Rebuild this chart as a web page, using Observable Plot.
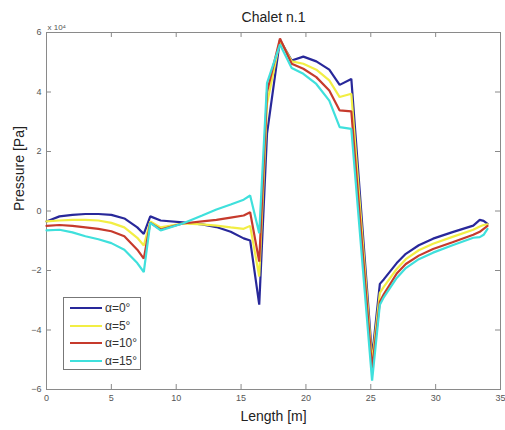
<!DOCTYPE html>
<html>
<head>
<meta charset="utf-8">
<script src="https://cdn.jsdelivr.net/npm/d3@7"></script>
<script src="https://cdn.jsdelivr.net/npm/@observablehq/plot@0.6"></script>
<style>
  html, body { margin: 0; padding: 0; background: #fff; }
  #wrap { position: relative; width: 505px; height: 430px; font-family: "Liberation Sans", Arial, sans-serif; }
  #legend { position: absolute; left: 63px; top: 297px; width: 78px; height: 73px; border: 1px solid #777; background: #fff; box-sizing: border-box; }
  .row { position: absolute; left: 6px; height: 16px; display: flex; align-items: center; font-size: 12px; color: #333; }
  .sw { width: 32px; height: 0; border-top: 2.5px solid; margin-right: 3px; }
</style>
</head>
<body>
<div id="wrap"></div>
<script>
// Data (pressure in units of 1e4 Pa)
const lengthM = [0, 1, 2, 3, 4, 5, 6, 7, 7.5, 8.0, 8.8, 10.5, 12, 13.1, 14.2, 15.2, 15.7, 16.4, 17.0, 18.0, 18.9, 19.8, 20.8, 21.8, 22.6, 23.5, 25.1, 25.7, 26.0, 27.0, 27.7, 28.7, 29.8, 31.3, 32.9, 33.4, 33.7, 34.0];
const alpha0  = [-0.35, -0.18, -0.13, -0.1, -0.1, -0.13, -0.25, -0.55, -0.77, -0.18, -0.32, -0.38, -0.45, -0.54, -0.7, -0.92, -0.99, -3.15, 2.6, 5.75, 5.06, 5.19, 5.03, 4.75, 4.24, 4.44, -4.9, -2.45, -2.3, -1.75, -1.44, -1.15, -0.93, -0.71, -0.49, -0.3, -0.33, -0.43];
const alpha5  = [-0.35, -0.32, -0.3, -0.3, -0.32, -0.4, -0.55, -0.9, -1.16, -0.35, -0.55, -0.42, -0.45, -0.49, -0.55, -0.6, -0.5, -2.2, 3.6, 5.75, 5.03, 4.95, 4.75, 4.39, 3.83, 3.94, -5.1, -2.75, -2.55, -1.95, -1.62, -1.32, -1.1, -0.87, -0.63, -0.52, -0.47, -0.45];
const alpha10 = [-0.5, -0.47, -0.5, -0.55, -0.6, -0.68, -0.85, -1.3, -1.6, -0.4, -0.62, -0.42, -0.35, -0.3, -0.22, -0.15, -0.04, -1.7, 4.0, 5.8, 4.95, 4.78, 4.5, 4.05, 3.38, 3.35, -5.3, -3.05, -2.8, -2.1, -1.78, -1.5, -1.28, -1.05, -0.8, -0.7, -0.6, -0.5];
const alpha15 = [-0.65, -0.63, -0.72, -0.85, -0.95, -1.08, -1.3, -1.75, -2.05, -0.4, -0.65, -0.42, -0.15, 0.05, 0.22, 0.38, 0.52, -0.75, 4.3, 5.6, 4.81, 4.61, 4.27, 3.71, 2.82, 2.76, -5.7, -3.15, -2.9, -2.25, -1.92, -1.62, -1.4, -1.15, -0.9, -0.88, -0.8, -0.6];
const seriesNames = ["α=0°", "α=5°", "α=10°", "α=15°"];
const seriesColors = ["#28289a", "#f2ee44", "#c63a2c", "#3fe0dc"];
const xTicks = [0, 5, 10, 15, 20, 25, 30, 35];
const yTicks = [-6, -4, -2, 0, 2, 4, 6];

const allSeries = [alpha0, alpha5, alpha10, alpha15];
const rows = [];
allSeries.forEach((ys, s) => ys.forEach((v, i) => rows.push({x: lengthM[i], y: v, s: seriesNames[s]})));

const W = 505, H = 430;
const mL = 46, mR = 5, mT = 32, mB = 41;
const tickLenX = 5 * 35 / (W - mL - mR);
const tickLenY = 5 * 12 / (H - mT - mB);

const plot = Plot.plot({
  width: W, height: H,
  marginLeft: mL, marginRight: mR, marginTop: mT, marginBottom: mB,
  style: {fontFamily: "Liberation Sans, Arial, sans-serif", background: "#fff"},
  x: {domain: [0, 35]},
  y: {domain: [-6, 6]},
  color: {domain: seriesNames, range: seriesColors},
  marks: [
    Plot.frame({stroke: "#8a8a8a", strokeWidth: 1}),
    // inward ticks on all four sides
    Plot.ruleX(xTicks, {x: d => d, y1: -6, y2: -6 + tickLenY, stroke: "#8a8a8a"}),
    Plot.ruleX(xTicks, {x: d => d, y1: 6, y2: 6 - tickLenY, stroke: "#8a8a8a"}),
    Plot.ruleY(yTicks, {y: d => d, x1: 0, x2: tickLenX, stroke: "#8a8a8a"}),
    Plot.ruleY(yTicks, {y: d => d, x1: 35, x2: 35 - tickLenX, stroke: "#8a8a8a"}),
    Plot.axisX({ticks: xTicks, tickSize: 0, tickPadding: 5, fontSize: 9, color: "#555", label: null}),
    Plot.axisY({ticks: yTicks, tickSize: 0, tickPadding: 5, fontSize: 9, color: "#555", label: null}),
    Plot.line(rows, {x: "x", y: "y", z: "s", stroke: "s", strokeWidth: 2.2, strokeLinejoin: "miter"}),
    Plot.text(["Chalet n.1"], {frameAnchor: "top", dy: -20, fontSize: 14, fill: "#222"}),
    Plot.text(["Length [m]"], {frameAnchor: "bottom", dy: 31, fontSize: 14, fill: "#222"}),
    Plot.text(["Pressure [Pa]"], {frameAnchor: "left", dx: -27, rotate: -90, fontSize: 14, fill: "#222"}),
    Plot.text(["x 10⁴"], {frameAnchor: "top-left", dy: -8, dx: 1, textAnchor: "start", fontSize: 8, fill: "#555"})
  ]
});
const wrap = document.getElementById("wrap");
wrap.appendChild(plot);

const lg = document.createElement("div");
lg.id = "legend";
seriesNames.forEach((n, i) => {
  const r = document.createElement("div");
  r.className = "row";
  r.style.top = (2 + i * 17.5) + "px";
  const sw = document.createElement("span");
  sw.className = "sw";
  sw.style.borderTopColor = seriesColors[i];
  r.appendChild(sw);
  r.appendChild(document.createTextNode(n));
  lg.appendChild(r);
});
wrap.appendChild(lg);
</script>
</body>
</html>
